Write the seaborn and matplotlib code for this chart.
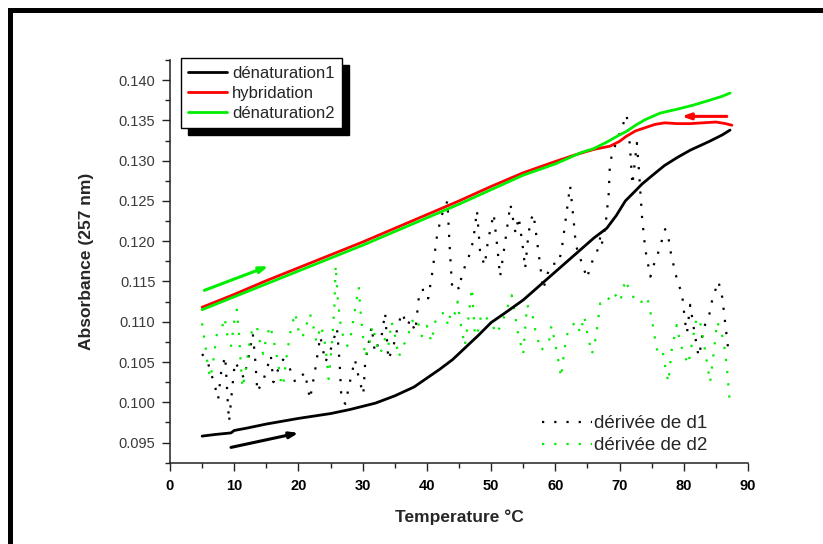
import numpy as np
import pandas as pd
import matplotlib
matplotlib.use("Agg")
import matplotlib.pyplot as plt
import seaborn as sns
from matplotlib.ticker import MultipleLocator, FormatStrFormatter
from matplotlib.patches import Rectangle

sns.set_style("ticks")
plt.rcParams['font.family'] = ['Liberation Sans', 'DejaVu Sans']

# ---------------- data ----------------
den1_x = [5, 7, 9.5, 10, 12, 15, 20, 25, 28, 30, 32, 35, 38, 40, 42, 44, 46, 48, 50,
          52, 55, 58, 60, 62, 64, 66, 68, 69.5, 70.9, 72.4, 73.5, 75, 77, 79, 81, 84, 86, 87.2]
den1_y = [0.0958, 0.0960, 0.0962, 0.0965, 0.0968, 0.0973, 0.0980, 0.0986, 0.0991, 0.0995,
          0.0999, 0.1008, 0.1019, 0.1030, 0.1041, 0.1053, 0.1068, 0.1083, 0.1099,
          0.1110, 0.1127, 0.1148, 0.1162, 0.1176, 0.1190, 0.1204, 0.1216, 0.1232, 0.1250,
          0.1262, 0.1271, 0.1281, 0.1294, 0.1304, 0.1313, 0.1324, 0.1332, 0.1338]

hyb_x = [5, 10, 15, 20, 25, 30, 35, 40, 45, 50, 55, 60, 63, 66, 68.5, 70, 71, 72.5, 74,
         75.5, 77, 79, 81, 83, 85, 86.5, 87.5]
hyb_y = [0.1118, 0.1134, 0.1151, 0.1167, 0.1183, 0.1199, 0.1216, 0.1233, 0.1250, 0.1268,
         0.1285, 0.1299, 0.1307, 0.1314, 0.1318, 0.1324, 0.1330, 0.1337, 0.1341,
         0.1345, 0.1347, 0.1346, 0.1346, 0.1347, 0.1348, 0.1346, 0.1344]

den2_x = [5, 10, 15, 20, 25, 30, 35, 40, 45, 50, 55, 60, 64, 66, 68, 70, 71, 72.5, 74,
          76.3, 79, 81.5, 84, 86, 87.2]
den2_y = [0.1115, 0.1131, 0.1147, 0.1163, 0.1179, 0.1195, 0.1212, 0.1229, 0.1246, 0.1264,
          0.1282, 0.1296, 0.1310, 0.1315, 0.1323, 0.1332, 0.1336, 0.1344, 0.1351,
          0.1359, 0.1364, 0.1369, 0.1375, 0.1380, 0.1384]

d1_x = [5.0, 5.9, 6.5, 7.0, 7.5, 8.0, 8.6, 9.0, 9.2, 9.6, 10.1, 10.9, 11.5, 12.2, 12.9,
        13.3, 13.6, 14.6, 15.2, 15.7, 16.1, 16.8, 17.6, 18.5, 19.5, 20.2, 21.0, 21.8,
        22.6, 23.4, 24.2, 25.0, 26.0, 26.4, 26.7, 27.3, 28.0, 28.8, 29.4, 30.1, 30.4,
        31.4, 31.9, 33.0, 33.5, 34.0, 34.8, 35.5, 36.1, 37.0, 37.4, 38.2, 38.7, 38.9,
        39.8, 40.2, 40.9, 41.5, 42.2, 43.2, 43.5, 43.9, 44.5, 45.0, 45.5, 46.5, 47.2,
        47.8, 48.3, 49.0, 49.5, 50.4, 51.0, 51.4, 52.2, 53.0, 53.8, 54.3, 55.0, 55.3,
        55.7, 56.1, 56.6, 57.0, 57.4, 57.8, 58.1, 58.8, 59.5, 60.5, 61.0, 61.5, 62.0,
        62.3, 62.8, 63.2, 63.8, 64.3, 64.9, 65.7, 66.5, 67.0, 67.2, 67.8, 68.3, 68.5,
        68.8, 69.8, 70.4, 71.1, 71.6, 72.0, 72.7, 73.0, 73.5, 74.0, 74.8, 75.3, 76.2,
        77.1, 77.5, 78.0, 78.7, 79.2, 79.7, 80.2, 80.5, 81.0, 81.5, 82.3, 82.5, 83.0,
        84.0, 84.5, 85.4, 86.0, 86.5, 87.0]
d1_y = [0.1060, 0.1049, 0.1033, 0.1020, 0.1004, 0.1040, 0.1057, 0.1000, 0.0976, 0.1010,
        0.1050, 0.1040, 0.1030, 0.1055, 0.1085, 0.1050, 0.1013, 0.1029, 0.1045, 0.1058,
        0.1025, 0.1040, 0.1053, 0.1045, 0.1025, 0.1030, 0.1037, 0.1004, 0.1040, 0.1082,
        0.1050, 0.1065, 0.1092, 0.1050, 0.1004, 0.0998, 0.1025, 0.1053, 0.1030, 0.1010,
        0.1050, 0.1094, 0.1062, 0.1085, 0.1111, 0.1053, 0.1070, 0.1095, 0.1111, 0.1095,
        0.1103, 0.1088, 0.1127, 0.1139, 0.1140, 0.1129, 0.1164, 0.1203, 0.1230, 0.1250,
        0.1200, 0.1146, 0.1150, 0.1140, 0.1160, 0.1180, 0.1200, 0.1238, 0.1185, 0.1170,
        0.1200, 0.1234, 0.1190, 0.1156, 0.1200, 0.1246, 0.1210, 0.1230, 0.1189, 0.1166,
        0.1200, 0.1225, 0.1234, 0.1210, 0.1185, 0.1160, 0.1140, 0.1160, 0.1172, 0.1172,
        0.1190, 0.1220, 0.1250, 0.1269, 0.1230, 0.1195, 0.1180, 0.1170, 0.1154, 0.1174,
        0.1187, 0.1205, 0.1195, 0.1219, 0.1258, 0.1295, 0.1307, 0.1330, 0.1342, 0.1357,
        0.1320, 0.1270, 0.1322, 0.1290, 0.1230, 0.1190, 0.1156, 0.1170, 0.1190, 0.1215,
        0.1210, 0.1185, 0.1160, 0.1145, 0.1137, 0.1100, 0.1086, 0.1121, 0.1095, 0.1057,
        0.1062, 0.1090, 0.1110, 0.1130, 0.1150, 0.1130, 0.1095, 0.1060]

d2_x = [5.0, 5.5, 5.9, 6.3, 6.8, 7.3, 8.0, 8.5, 9.0, 9.5, 10.0, 10.4, 10.8, 11.0, 11.3,
        11.8, 12.3, 12.8, 13.5, 14.0, 14.5, 15.0, 15.6, 16.2, 16.8, 17.3, 17.6, 18.2,
        18.8, 19.5, 20.0, 20.6, 21.2, 21.8, 22.3, 22.8, 23.5, 24.0, 24.4, 24.7, 25.2,
        25.6, 25.8, 26.1, 26.5, 27.0, 27.6, 28.2, 28.8, 29.4, 29.6, 30.0, 30.4, 31.0,
        31.5, 32.0, 32.5, 33.0, 33.5, 34.0, 34.5, 35.0, 35.6, 36.3, 37.0, 37.6, 38.4,
        39.2, 40.0, 40.7, 41.3, 42.0, 42.8, 43.3, 43.8, 44.4, 44.8, 45.2, 45.9, 46.4,
        47.0, 47.5, 48.0, 48.5, 49.2, 50.0, 50.8, 51.5, 52.2, 53.2, 53.7, 54.2, 55.0,
        55.3, 55.6, 56.4, 57.0, 57.8, 58.5, 59.0, 59.4, 59.8, 60.3, 60.9, 61.4, 62.0,
        62.6, 63.2, 63.9, 64.5, 65.0, 65.7, 66.3, 67.0, 67.8, 68.4, 69.0, 70.1, 70.9,
        71.5, 72.2, 72.7, 73.5, 74.3, 74.9, 75.3, 75.7, 76.1, 76.8, 77.2, 77.6, 78.1,
        78.9, 79.4, 80.0, 80.7, 81.2, 82.0, 82.5, 83.0, 83.6, 84.1, 84.5, 85.2, 85.9,
        86.3, 86.7, 87.2]
d2_y = [0.1098, 0.1071, 0.1044, 0.1030, 0.1055, 0.1085, 0.1090, 0.1105, 0.1080, 0.1070,
        0.1100, 0.1115, 0.1080, 0.1050, 0.1018, 0.1040, 0.1070, 0.1090, 0.1095, 0.1075,
        0.1060, 0.1080, 0.1095, 0.1075, 0.1050, 0.1025, 0.1020, 0.1060, 0.1090, 0.1111,
        0.1090, 0.1080, 0.1095, 0.1110, 0.1095, 0.1075, 0.1095, 0.1080, 0.1055, 0.1029,
        0.1070, 0.1120, 0.1170, 0.1130, 0.1100, 0.1080, 0.1070, 0.1085, 0.1115, 0.1143,
        0.1119, 0.1085, 0.1056, 0.1070, 0.1095, 0.1080, 0.1060, 0.1065, 0.1080, 0.1070,
        0.1100, 0.1085, 0.1056, 0.1070, 0.1080, 0.1100, 0.1105, 0.1082, 0.1095, 0.1075,
        0.1100, 0.1110, 0.1111, 0.1095, 0.1115, 0.1110, 0.1125, 0.1100, 0.1070, 0.1100,
        0.1142, 0.1082, 0.1090, 0.1110, 0.1105, 0.1100, 0.1085, 0.1095, 0.1110, 0.1133,
        0.1110, 0.1085, 0.1060, 0.1090, 0.1121, 0.1110, 0.1085, 0.1064, 0.1072, 0.1075,
        0.1095, 0.1080, 0.1060, 0.1031, 0.1065, 0.1090, 0.1095, 0.1100, 0.1086, 0.1107,
        0.1085, 0.1060, 0.1080, 0.1123, 0.1122, 0.1130, 0.1137, 0.1125, 0.1152, 0.1140,
        0.1130, 0.1123, 0.1125, 0.1131, 0.1108, 0.1090, 0.1070, 0.1057, 0.1060, 0.1040,
        0.1025, 0.1064, 0.1096, 0.1075, 0.1060, 0.1047, 0.1070, 0.1105, 0.1101, 0.1080,
        0.1050, 0.1025, 0.1050, 0.1100, 0.1086, 0.1070, 0.1045, 0.0996]

labels_main = ["dénaturation1", "hybridation", "dénaturation2"]
labels_deriv = ["dérivée de d1", "dérivée de d2"]

# direction arrows: (x_start, y_start, x_end, y_end)
arrow_green = [5.35, 0.1139, 15.3, 0.1169]
arrow_black = [9.5, 0.0944, 20.0, 0.0962]
arrow_red = [86.7, 0.1355, 79.7, 0.1355]

# ---------------- figure ----------------
W, H = 823, 544
fig = plt.figure(figsize=(W / 100, H / 100), dpi=100)
fig.patch.set_facecolor("white")
ax = fig.add_axes([170 / W, 1 - 462.7 / H, 578 / W, 402.7 / H])
ax.set_facecolor("white")

dot_style = (0, (1, 4.5))
GREEN = "#00ee00"
RED = "#ff0000"

sns.lineplot(x=d1_x, y=d1_y, ax=ax, color="black", lw=1.6, linestyle=dot_style,
             estimator=None, sort=False, legend=False)
sns.lineplot(x=d2_x, y=d2_y, ax=ax, color=GREEN, lw=1.6, linestyle=dot_style,
             estimator=None, sort=False, legend=False)
sns.lineplot(x=den1_x, y=den1_y, ax=ax, color="black", lw=2.0,
             estimator=None, sort=False, legend=False)
sns.lineplot(x=hyb_x, y=hyb_y, ax=ax, color=RED, lw=2.0,
             estimator=None, sort=False, legend=False)
sns.lineplot(x=den2_x, y=den2_y, ax=ax, color=GREEN, lw=2.0,
             estimator=None, sort=False, legend=False)

lines = ax.get_lines()
h_d1, h_d2, h_den1, h_hyb, h_den2 = lines[:5]

for arr, col in [(arrow_green, GREEN), (arrow_black, "black"), (arrow_red, RED)]:
    ax.annotate("", xy=(arr[2], arr[3]), xytext=(arr[0], arr[1]),
                arrowprops=dict(arrowstyle="-|>,head_length=0.5,head_width=0.18",
                                color=col, lw=2.2, shrinkA=0, shrinkB=0))

ax.set_xlim(0, 90)
ax.set_ylim(0.0925, 0.1425)
ax.xaxis.set_major_locator(MultipleLocator(10))
ax.xaxis.set_minor_locator(MultipleLocator(5))
ax.yaxis.set_major_locator(MultipleLocator(0.005))
ax.yaxis.set_minor_locator(MultipleLocator(0.0025))
ax.yaxis.set_major_formatter(FormatStrFormatter("%.3f"))

for s in ["top", "right"]:
    ax.spines[s].set_visible(False)
for s in ["left", "bottom"]:
    ax.spines[s].set_color("#222222")
    ax.spines[s].set_linewidth(1.1)

ax.tick_params(axis="both", which="major", direction="out", length=5.5, width=1.0,
               color="#222222")
ax.tick_params(axis="both", which="minor", direction="out", length=3.3, width=1.0,
               color="#222222")
ax.tick_params(axis="x", labelsize=10.5, pad=6, labelcolor="black")
ax.tick_params(axis="y", labelsize=10.5, pad=5, labelcolor="#3a3a3a")
for t in ax.get_xticklabels():
    t.set_fontweight("bold")

ax.set_xlabel("Temperature °C", fontsize=12.5, fontweight="bold")
ax.set_ylabel("Absorbance (257 nm)", fontsize=12.5, fontweight="bold")
ax.xaxis.set_label_coords(0.5, -0.115)
ax.yaxis.set_label_coords(-0.132, 0.5)

leg1 = ax.legend([h_den1, h_hyb, h_den2], labels_main, loc="upper left",
                 bbox_to_anchor=(180.7 / W, 1 - 58.3 / H), bbox_transform=fig.transFigure,
                 borderaxespad=0, fontsize=12, frameon=True, fancybox=False,
                 framealpha=1, edgecolor="black", handlelength=2.35, handletextpad=0.3,
                 labelspacing=0.3, borderpad=0.45,
                 shadow={"ox": 5, "oy": -5, "facecolor": "black", "edgecolor": "black",
                         "alpha": 1})
leg1.get_frame().set_linewidth(1.0)
ax.add_artist(leg1)

leg2 = ax.legend([h_d1, h_d2], labels_deriv, loc="upper left",
                 bbox_to_anchor=(542 / W, 1 - 415 / H), bbox_transform=fig.transFigure,
                 borderaxespad=0, borderpad=0, fontsize=13.5, frameon=False,
                 handlelength=2.65, handletextpad=0.1, labelspacing=0.28)

# outer frame lines (top and left)
fig.add_artist(Rectangle((8.3 / W, 1 - 12.7 / H), 1.0, 4.4 / H, transform=fig.transFigure,
                         facecolor="black", edgecolor="none"))
fig.add_artist(Rectangle((8.3 / W, 0), 4.4 / W, 1 - 8.3 / H, transform=fig.transFigure,
                         facecolor="black", edgecolor="none"))

fig.savefig("out.png", dpi=100, facecolor="white")
